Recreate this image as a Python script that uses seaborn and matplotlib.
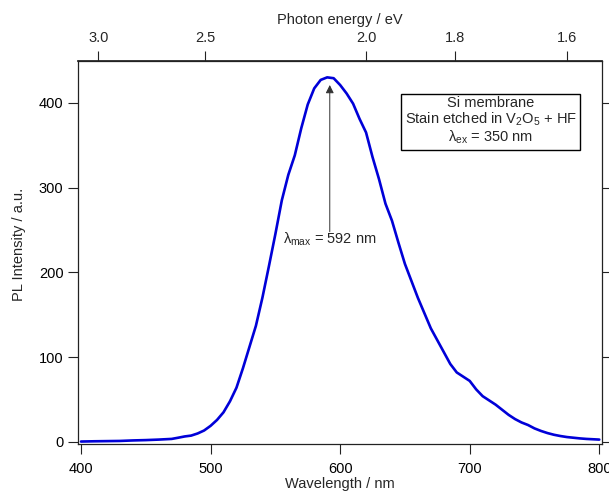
import numpy as np
import pandas as pd
import matplotlib
matplotlib.use("Agg")
import matplotlib.pyplot as plt
import seaborn as sns

# ---- data ----
wavelength_nm = [400, 410, 420, 430, 440, 450, 460, 465, 470, 475, 480, 485, 490, 495,
                 500, 505, 510, 515, 520, 525, 530, 535, 540, 545, 550, 555, 560, 565,
                 570, 575, 580, 585, 590, 595, 600, 605, 610, 615, 620, 625, 630, 635,
                 640, 645, 650, 655, 660, 665, 670, 675, 680, 685, 690, 695, 700, 705,
                 710, 715, 720, 725, 730, 735, 740, 745, 750, 755, 760, 765, 770, 775,
                 780, 785, 790, 795, 800]
pl_intensity = [0.5, 0.8, 1.0, 1.2, 1.8, 2.2, 2.8, 3.2, 3.6, 5.0, 6.5, 7.5, 10, 13.5,
                19, 26, 35, 48, 64, 87, 112, 137, 170, 207, 245, 285, 315, 338,
                370, 398, 417, 427, 430, 429, 421, 411, 399, 381, 365, 336, 310, 281,
                261, 235, 210, 190, 170, 152, 134, 120, 106, 92, 82, 77, 72, 62,
                54, 49, 44, 38, 32, 27, 23, 20, 16, 13, 10.5, 8.5, 7, 5.8,
                5, 4.2, 3.6, 3.2, 2.8]
x_ticks = [400, 500, 600, 700, 800]
y_ticks = [0, 100, 200, 300, 400]
energy_ticks = [3.0, 2.5, 2.0, 1.8, 1.6]
energy_labels = ["3.0", "2.5", "2.0", "1.8", "1.6"]
peak_nm = 592
box_lines = ["Si membrane", "Stain etched in V$_2$O$_5$ + HF", "λ$_{\\mathrm{ex}}$ = 350 nm"]

df = pd.DataFrame({"Wavelength": wavelength_nm, "PL": pl_intensity})

sns.set_theme(style="ticks")
plt.rcParams["font.family"] = ["Liberation Sans", "DejaVu Sans"]
plt.rcParams["mathtext.fontset"] = "custom"
plt.rcParams["mathtext.rm"] = "Liberation Sans"
plt.rcParams["mathtext.it"] = "Liberation Sans"
plt.rcParams["mathtext.default"] = "regular"

fig = plt.figure(figsize=(6.09, 4.92), dpi=100)
ax = fig.add_axes([78 / 609, 1 - 444 / 492, (602 - 78) / 609, (444 - 61) / 492])

sns.lineplot(data=df, x="Wavelength", y="PL", ax=ax, color="#0000d8", linewidth=1.9)

ax.set_xlim(397.7, 802.1)
ax.set_ylim(-2.4, 449.3)
ax.set_xticks(x_ticks)
ax.set_yticks(y_ticks)
ax.set_xlabel("Wavelength / nm", fontsize=10.5, labelpad=1)
ax.set_ylabel("PL Intensity / a.u.", fontsize=10.5, labelpad=10)
ax.yaxis.set_label_coords(-0.1, 0.52)

for s in ax.spines.values():
    s.set_color("#222222")
    s.set_linewidth(0.9)

ax.tick_params(axis="both", direction="out", length=7.5, width=0.8, color="#222222",
               labelsize=10.5, pad=3, labelcolor="black")
ax.tick_params(axis="x", pad=5.5)
ax.tick_params(axis="y", right=True, labelright=False)

def to_ev(x):
    x = np.asarray(x, dtype=float)
    with np.errstate(divide="ignore"):
        return 1239.84 / x

sec = ax.secondary_xaxis("top", functions=(to_ev, to_ev))
sec.set_xticks(energy_ticks)
sec.set_xticklabels(energy_labels)
sec.tick_params(direction="out", length=7.5, width=0.8, color="#222222",
                labelsize=10.5, pad=4)
sec.set_xlabel("Photon energy / eV", fontsize=10.5, labelpad=5)
sec.spines["top"].set_color("#222222")

# peak annotation
ax.annotate("", xy=(peak_nm, 421), xytext=(peak_nm, 248),
            arrowprops=dict(arrowstyle="-|>", color="#333333", lw=0.7,
                            mutation_scale=12, shrinkA=0, shrinkB=0))
ax.text(peak_nm, 238.5, "λ$_{\\mathrm{max}}$ = 592 nm", ha="center", va="center",
        fontsize=10.5)

ax.text(0.7876, 0.843, "\n".join(box_lines), transform=ax.transAxes, ha="center",
        va="center", fontsize=10.5, linespacing=1.05,
        bbox=dict(boxstyle="square,pad=0.25", facecolor="white", edgecolor="black",
                  linewidth=1.0))

fig.savefig("out.png", dpi=100)
